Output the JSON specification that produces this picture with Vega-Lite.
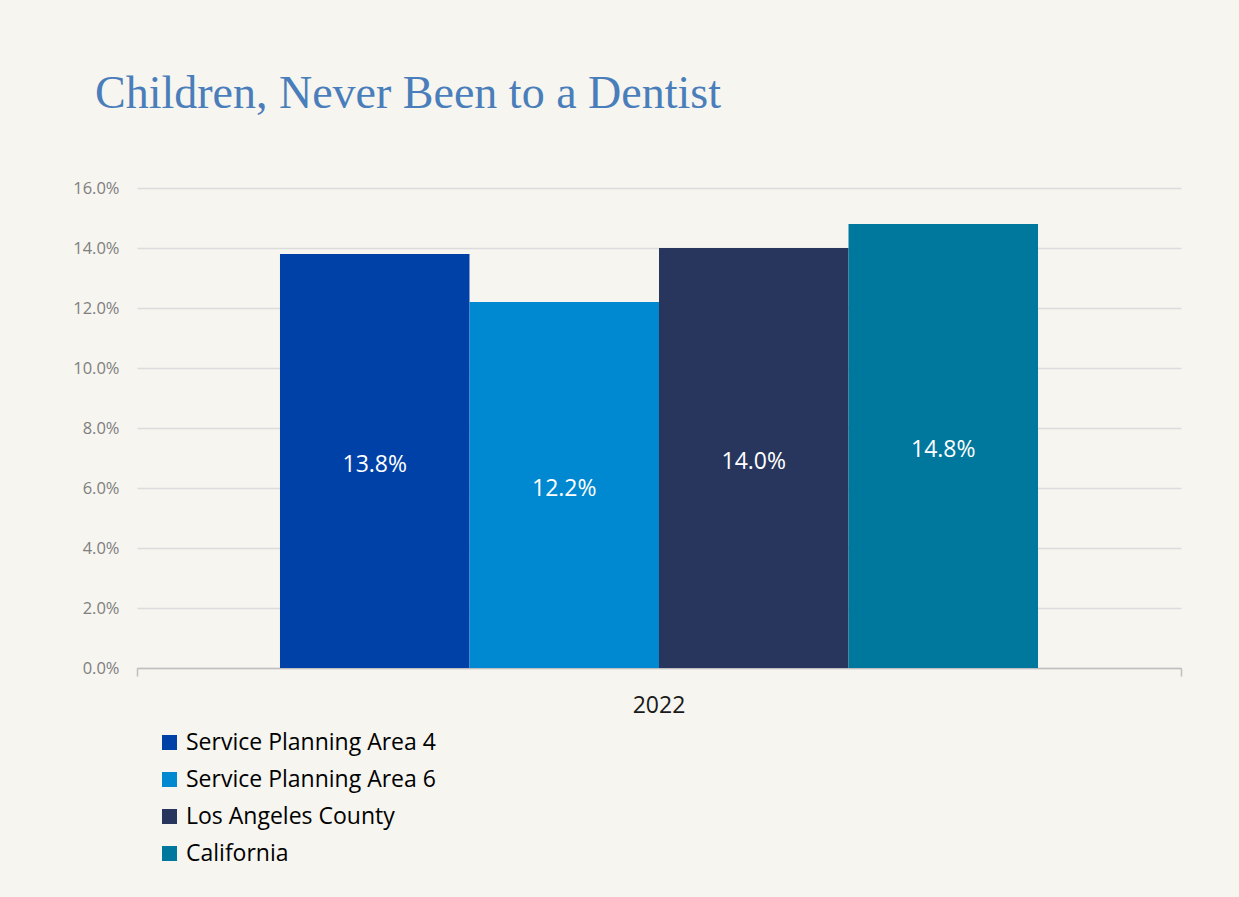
{
  "$schema": "https://vega.github.io/schema/vega-lite/v6.json",
  "autosize": {"type": "none"},
  "width": 1044,
  "height": 480,
  "padding": {"left": 137, "top": 188, "right": 58, "bottom": 229},
  "background": "#f6f5ef",
  "config": {
    "view": {"stroke": null},
    "font": "Open Sans"
  },
  "title": {
    "text": "Children, Never Been to a Dentist",
    "anchor": "start",
    "frame": "group",
    "font": "Liberation Serif",
    "fontSize": 46,
    "fontWeight": "normal",
    "color": "#4a7ebb",
    "baseline": "alphabetic",
    "offset": 26,
    "dx": -42
  },
  "data": {
    "values": [
      {"year": "2022", "series": "Service Planning Area 4", "value": 0.138},
      {"year": "2022", "series": "Service Planning Area 6", "value": 0.122},
      {"year": "2022", "series": "Los Angeles County", "value": 0.140},
      {"year": "2022", "series": "California", "value": 0.148}
    ]
  },
  "encoding": {
    "xOffset": {
      "field": "series",
      "type": "nominal",
      "sort": ["Service Planning Area 4", "Service Planning Area 6", "Los Angeles County", "California"],
      "scale": {"paddingInner": 0, "paddingOuter": 0.7545}
    }
  },
  "layer": [
    {
      "mark": {"type": "bar"},
      "encoding": {
        "x": {
          "field": "year",
          "type": "nominal",
          "scale": {"paddingInner": 0, "paddingOuter": 0},
          "axis": {
            "title": null,
            "orient": "bottom",
            "labelAngle": 0,
            "labelFontSize": 23,
            "labelColor": "#1a1a1a",
            "labelPadding": 18,
            "ticks": true,
            "bandPosition": 0,
            "tickSize": 8,
            "tickColor": "#bfbfbf",
            "tickWidth": 1.5,
            "domainColor": "#bfbfbf",
            "domainWidth": 1.5
          }
        },
        "y": {
          "field": "value",
          "type": "quantitative",
          "scale": {"domain": [0, 0.16]},
          "axis": {
            "title": null,
            "format": ".1%",
            "values": [0, 0.02, 0.04, 0.06, 0.08, 0.1, 0.12, 0.14, 0.16],
            "domain": false,
            "ticks": false,
            "labelPadding": 18,
            "labelFontSize": 16.5,
            "labelColor": "#7f7f7f",
            "gridColor": "#dcdcdc",
            "gridWidth": 1.5
          }
        },
        "color": {
          "field": "series",
          "type": "nominal",
          "sort": ["Service Planning Area 4", "Service Planning Area 6", "Los Angeles County", "California"],
          "scale": {
            "domain": ["Service Planning Area 4", "Service Planning Area 6", "Los Angeles County", "California"],
            "range": ["#0041a8", "#0088d1", "#28365e", "#00789e"]
          },
          "legend": {
            "title": null,
            "orient": "none",
            "legendX": 21,
            "legendY": 543,
            "direction": "vertical",
            "symbolType": "square",
            "symbolSize": 225,
            "symbolStrokeWidth": 0,
            "symbolOpacity": 1,
            "labelFontSize": 23,
            "labelColor": "#000000",
            "labelOffset": 5,
            "labelLimit": 0,
            "rowPadding": 13
          }
        }
      }
    },
    {
      "mark": {"type": "text", "color": "#ffffff", "fontSize": 23, "baseline": "middle", "dy": 4},
      "encoding": {
        "x": {
          "field": "year",
          "type": "nominal",
          "axis": {
            "title": null,
            "orient": "bottom",
            "labels": false,
            "domain": false,
            "grid": false,
            "ticks": true,
            "bandPosition": 1,
            "tickSize": 8,
            "tickColor": "#bfbfbf",
            "tickWidth": 1.5
          }
        },
        "y": {
          "field": "value",
          "type": "quantitative",
          "scale": {"domain": [0, 0.32]},
          "axis": null
        },
        "text": {"field": "value", "type": "quantitative", "format": ".1%"}
      }
    }
  ],
  "resolve": {"scale": {"y": "independent"}, "axis": {"x": "independent"}}
}
